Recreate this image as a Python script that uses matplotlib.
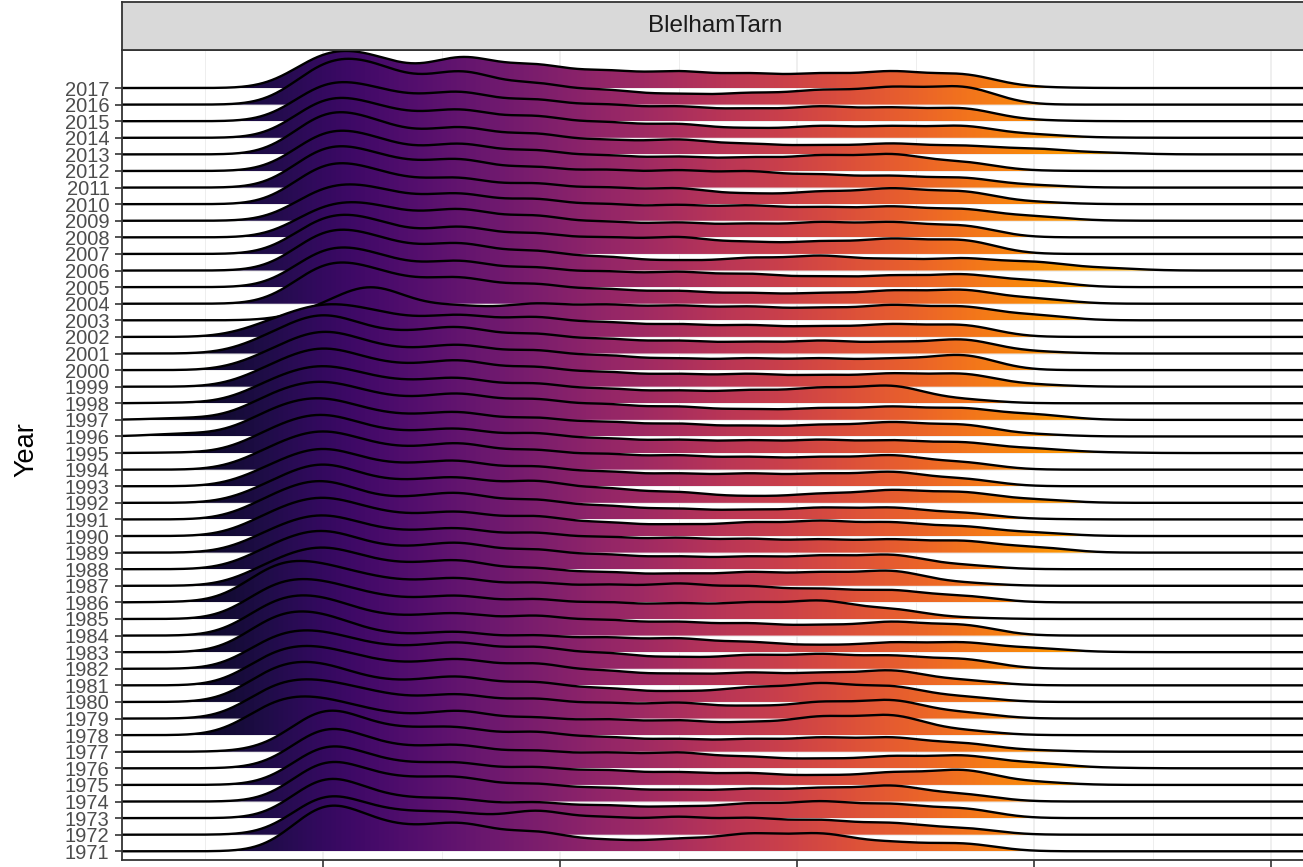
import numpy as np
import matplotlib
matplotlib.use('Agg')
import matplotlib.pyplot as plt
from matplotlib.colors import Normalize
from matplotlib.patches import Polygon

plt.rcParams['font.family'] = ['Liberation Sans', 'DejaVu Sans']

lake = 'BlelhamTarn'
years = list(range(1971, 2018))
# water temperature (deg C) at which each ridge was read
knots = [2, 3, 4, 5, 6, 7, 8, 9.5, 11, 12.5, 14, 15.5, 17, 18.5, 20, 21.5, 23]
# relative density at each knot, one row per year (1971 first)
density = [
    [0, 0.5, 14, 44, 36, 27, 28, 20, 12, 13, 18, 18, 10, 8, 0.3, 0, 0],
    [0, 0.5, 12, 37, 31, 24, 22, 24, 18, 18, 17, 15, 12, 7, 0.5, 0, 0],
    [0, 0.5, 12, 38, 30, 21, 19, 16, 13, 12, 15, 17, 14.5, 10, 0.5, 0, 0],
    [0, 0.5, 12, 38, 32, 25, 24, 18, 14, 12, 13, 14, 16, 8, 0.5, 0, 0],
    [0, 0.5, 12, 37, 31, 23, 22, 18, 15, 13, 12, 10, 13, 15, 4, 0, 0],
    [0, 0.5, 13, 38, 31, 23, 23, 18, 16, 16, 12, 10, 12.5, 13, 6, 1, 0],
    [0, 1, 15, 40, 32, 25, 24, 20, 15, 13, 13, 14.5, 14.5, 9, 2, 0, 0],
    [0.5, 8, 34, 37, 27, 22, 24, 18, 16, 15, 13.5, 19, 20, 6, 0, 0, 0],
    [0.5, 8, 34, 38, 29, 23, 24, 20, 16, 16, 13, 17, 18.5, 7, 0, 0, 0],
    [0.5, 8, 35, 38, 26, 23, 25, 20, 14, 11, 15, 19, 16, 6, 0, 0, 0],
    [0.5, 8, 34, 38, 28, 24, 26, 22, 15, 12, 13, 13, 15, 6, 0, 0, 0],
    [0.5, 8, 33, 37, 27, 24, 26, 22, 16, 12, 14, 15, 13.5, 10, 1, 0, 0],
    [0.5, 9, 36, 38, 24, 19, 20, 17, 15, 14, 10.5, 7.5, 10, 10, 4.5, 0.5, 0],
    [0.5, 9, 35, 38, 25, 21, 22, 20, 16, 14, 12.5, 11, 14, 11, 1, 0, 0],
    [0.5, 9, 35, 38, 27, 22, 23, 20, 17, 16, 17, 18.5, 10.5, 2, 0, 0, 0],
    [1, 11, 37, 39, 28, 23, 24, 20, 18, 19, 16.5, 14, 12.5, 7, 0, 0, 0],
    [0.5, 5, 27, 38, 29, 24, 25, 18, 14, 12.5, 14, 14, 15, 4, 0, 0, 0],
    [0.5, 5, 27, 38, 28, 24, 26, 20, 15, 13, 13, 14, 14.5, 5, 0, 0, 0],
    [0.5, 5, 26, 37, 28, 23, 24, 20, 16, 15, 14, 13.5, 13.5, 12, 6, 0.5, 0],
    [0.5, 5, 27, 38, 29, 23, 24, 20, 14, 12, 14, 15.5, 14, 10, 4, 0, 0],
    [0.5, 5, 27, 38, 27, 24, 26, 20, 14, 11, 10, 12, 12, 7, 1, 0, 0],
    [0.5, 4, 25, 38, 28, 24, 25, 22, 15, 11, 7, 9.5, 13, 11, 4, 0, 0],
    [0.5, 4, 25, 37, 28, 24, 25, 20, 15, 13, 13, 13, 14.5, 8, 0.5, 0, 0],
    [0.5, 5, 26, 38, 29, 24, 26, 20, 16, 14.5, 13, 13, 14.5, 8, 0, 0, 0],
    [1, 6, 27, 38, 28, 23, 24, 20, 15, 13.5, 13, 13.5, 13, 11, 5, 1, 0],
    [3, 9, 29, 38, 28, 23, 24, 19, 15, 13, 11, 12, 14.5, 12, 3, 0, 0],
    [2, 8, 28, 38, 29, 24, 26, 21, 16, 13.5, 11, 12, 13.5, 12, 6, 0.5, 0],
    [1, 6, 26, 37, 29, 24, 25, 20, 15, 13, 13.5, 16, 17.5, 5, 0, 0, 0],
    [0.5, 5, 25, 38, 29, 24, 26, 20, 15, 13, 13, 12, 13.5, 13, 3, 0, 0],
    [0.5, 4, 24, 38, 29, 23, 25, 20, 15, 12, 12, 12, 12, 15, 1, 0, 0],
    [0.5, 4, 24, 38, 28, 24, 26, 20, 15, 13, 12, 13, 12, 14, 3, 0, 0],
    [0, 3, 20, 32, 28, 21, 22, 20, 15, 13, 12, 11, 13, 12, 1, 0, 0],
    [0, 0, 3, 18, 33, 21, 15, 17, 16, 15, 14, 13, 15.5, 14, 6, 0.3, 0],
    [0, 0, 6, 40, 36, 27, 26, 20, 15, 13, 11, 11, 13.5, 14, 6, 0, 0],
    [0, 0, 6, 38, 35, 26, 26, 20, 16, 15.5, 13.5, 11, 12, 13, 7, 0.5, 0],
    [0, 0, 7, 39, 36, 27, 27, 20, 14, 10.5, 13, 15, 12, 12.5, 9, 3, 0],
    [0, 0, 6, 37, 35, 26, 27, 21, 17, 17, 12.5, 13, 15.5, 14, 1, 0, 0],
    [0, 0, 4, 32, 33, 27, 28, 22, 16, 15, 14, 15.5, 15.5, 12, 1, 0, 0],
    [0, 0, 6, 33, 34, 27, 27, 22, 17, 16, 15.5, 14, 14.5, 12, 5, 0.5, 0],
    [0, 0.5, 8, 39, 36, 27, 26, 21, 17, 16, 11, 13, 16, 13, 3, 0, 0],
    [0, 0, 7, 40, 36, 28, 28, 21, 18, 17.5, 16.5, 13.5, 12, 10, 3, 0, 0],
    [0, 0, 6, 39, 35, 26, 27, 21, 16, 14.5, 14, 16, 17, 9.5, 1, 0, 0],
    [0, 0, 7, 41, 36, 26, 27, 21, 15, 15, 11, 9.5, 11, 9, 6, 2, 0],
    [0, 0.5, 8, 38, 35, 27, 28, 22, 16, 14, 10, 12, 12, 12, 4, 0.5, 0],
    [0, 0, 7, 37, 35, 28, 29, 22, 17, 15, 13, 15, 14, 13, 2, 0, 0],
    [0, 0, 7, 42, 42, 31, 33, 22, 15, 11, 12, 15, 18, 18, 1, 0, 0],
    [0, 0, 5, 35, 33, 25, 31, 24, 18, 17, 15, 15, 17, 14, 2, 0, 0],
]

# ---- smooth ridges with a gaussian kernel through the read values
kn = np.array(knots, dtype=float)
bw = 0.7
A = np.exp(-(kn[:, None] - kn[None, :]) ** 2 / (2 * bw ** 2))
xs = np.linspace(0.5, 26.5, 1400)
K = np.exp(-(xs[:, None] - kn[None, :]) ** 2 / (2 * bw ** 2))
per_row = 16.59  # density units per ridge row


def kernel_weights(vals):
    # non-negative kernel weights so the ridge has no ringing on the flat tails
    vals = np.asarray(vals, dtype=float)
    free = np.ones(len(vals), dtype=bool)
    w = np.zeros(len(vals))
    for _ in range(20):
        w[:] = 0
        w[free] = np.linalg.lstsq(A[:, free], vals, rcond=None)[0]
        neg = free & (w < 0)
        if not neg.any():
            break
        free &= ~neg
    return np.clip(w, 0, None)


fig = plt.figure(figsize=(13.03, 8.67), dpi=100)
W, H = 1303.0, 867.0
ax = fig.add_axes([122 / W, 7 / H, 1186 / W, 810 / H])

norm = Normalize(vmin=0.6, vmax=26.6)
grad = xs[None, :]

for k, yr in enumerate(reversed(years)):
    i = years.index(yr)
    w = kernel_weights(density[i])
    h = (K @ w) / per_row
    top = yr + h
    z = 2 + k * 0.02
    verts = np.column_stack([np.r_[xs, xs[::-1]], np.r_[top, np.full_like(xs, yr)]])
    poly = Polygon(verts, closed=True, facecolor='none', edgecolor='none', zorder=z)
    ax.add_patch(poly)
    im = ax.imshow(grad, extent=[xs[0], xs[-1], yr, yr + h.max() + 0.01],
                   cmap='inferno', norm=norm, aspect='auto', origin='lower',
                   interpolation='bilinear', zorder=z)
    im.set_clip_path(poly)
    ax.plot(xs, top, color='black', lw=1.7, zorder=z + 0.01, solid_capstyle='butt')

ax.set_xlim(0.7595, 25.78)
ax.set_ylim(1970.475, 2019.291)

ax.set_xticks([5, 10, 15, 20, 25])
ax.set_xticks([2.5, 7.5, 12.5, 17.5, 22.5], minor=True)
ax.set_xticklabels([])
ax.set_yticks(years)
ax.set_yticklabels([str(y) for y in years])
ax.set_axisbelow(True)
ax.grid(which='major', color='#ebebeb', lw=1.1)
ax.grid(which='minor', axis='x', color='#ebebeb', lw=0.6)
ax.tick_params(axis='both', which='major', length=5, width=1.2, color='#333333',
               labelsize=14.5, labelcolor='#4d4d4d', pad=4)
ax.tick_params(axis='x', which='minor', length=0)
for sp in ax.spines.values():
    sp.set_color('#333333')
    sp.set_linewidth(1.3)
    sp.set_zorder(10)

# facet strip
sax = fig.add_axes([122 / W, 817 / H, 1186 / W, 48 / H])
sax.set_facecolor('#d9d9d9')
sax.set_xticks([])
sax.set_yticks([])
for sp in sax.spines.values():
    sp.set_color('#333333')
    sp.set_linewidth(1.3)
sax.text(0.5, 0.5, lake, ha='center', va='center', fontsize=17.5, color='#1a1a1a',
         transform=sax.transAxes)

fig.text(26 / W, 1 - 450 / H, 'Year', rotation=90, ha='center', va='center',
         fontsize=19.5, color='black')

fig.savefig('out.png', dpi=100)
